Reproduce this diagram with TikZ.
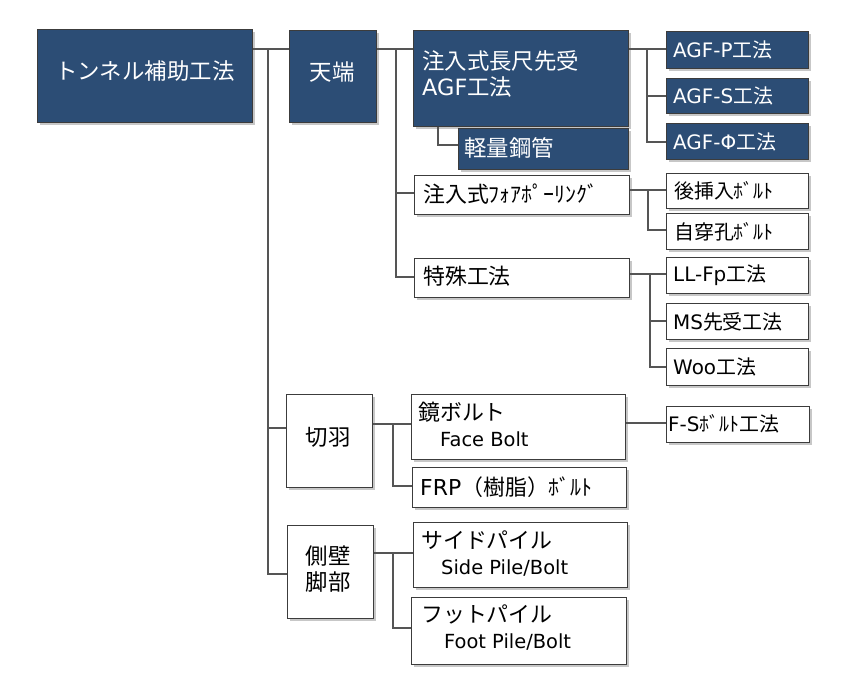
\documentclass[tikz,border=0pt]{standalone}
\usepackage{fontspec}
\setmainfont{Noto Sans CJK JP}
\newfontfamily\lat{DejaVu Sans}
\usetikzlibrary{shadows}
\definecolor{navy}{RGB}{44,77,117}
\definecolor{edgec}{RGB}{60,60,60}
\definecolor{wirec}{RGB}{85,85,85}
\begin{document}
\begin{tikzpicture}[x=1bp,y=-1bp,
  bx/.style={draw=edgec, line width=1.1bp, rectangle, inner sep=0pt, anchor=north west,
    drop shadow={shadow xshift=2.5bp, shadow yshift=-2.5bp, fill=black, opacity=0.22}},
  dk/.style={bx, fill=navy},
  wt/.style={bx, fill=white},
  tl/.style={inner sep=0pt, anchor=west},
  fbig/.style={font=\fontsize{22.5}{27}\selectfont},
  fmid/.style={font=\fontsize{22}{27}\selectfont},
  fsml/.style={font=\fontsize{20}{24}\selectfont},
  wire/.style={draw=wirec, line width=1.2bp}
]
\useasboundingbox[fill=white] (0,0) rectangle (850,700);

% ---- connector junction coordinates ----
\coordinate (j1) at (268,49);
\coordinate (j2) at (396,49);
\coordinate (j3) at (647,49);
\coordinate (j4) at (648,190);
\coordinate (j5) at (650,274);
\coordinate (j6) at (393,424);
\coordinate (j7) at (393,553);
\coordinate (k1) at (438,0);
\coordinate (yk) at (0,145);
\coordinate (ykiri) at (0,428);
\coordinate (ysoku) at (0,574);
\coordinate (yfore) at (0,193);
\coordinate (ytoku) at (0,277);
\coordinate (yagfs) at (0,96);
\coordinate (yagfphi) at (0,142);
\coordinate (yjisen) at (0,230);
\coordinate (yms) at (0,321);
\coordinate (ywoo) at (0,367);
\coordinate (yfrp) at (0,486);
\coordinate (yfs) at (0,423);
\coordinate (yfoot) at (0,628);

% ---- boxes ----
\node[dk, minimum width=215bp, minimum height=93bp] (main) at (37,29) {};
\node[dk, minimum width=87bp, minimum height=92bp] (tenpan) at (289,30) {};
\node[dk, minimum width=215bp, minimum height=96bp] (agf) at (413,30) {};
\node[dk, minimum width=170bp, minimum height=41bp] (keiryo) at (458,128) {};
\node[dk, minimum width=142bp, minimum height=37bp] (agfp) at (666,31) {};
\node[dk, minimum width=142bp, minimum height=35bp] (agfs) at (666,78) {};
\node[dk, minimum width=142bp, minimum height=36bp] (agfphi) at (666,123) {};
\node[wt, minimum width=215bp, minimum height=39bp] (fore) at (414,175) {};
\node[wt, minimum width=142bp, minimum height=35bp] (ato) at (666,173) {};
\node[wt, minimum width=142bp, minimum height=36bp] (jisen) at (666,213) {};
\node[wt, minimum width=215bp, minimum height=39bp] (tokushu) at (414,258) {};
\node[wt, minimum width=142bp, minimum height=36bp] (llfp) at (666,257) {};
\node[wt, minimum width=142bp, minimum height=36bp] (ms) at (666,303) {};
\node[wt, minimum width=142bp, minimum height=37bp] (woo) at (666,348) {};
\node[wt, minimum width=86bp, minimum height=93bp] (kiriha) at (286,394) {};
\node[wt, minimum width=214bp, minimum height=65bp] (kagami) at (411,394) {};
\node[wt, minimum width=214bp, minimum height=40bp] (frp) at (412,467) {};
\node[wt, minimum width=143bp, minimum height=36bp] (fs) at (666,406) {};
\node[wt, minimum width=86bp, minimum height=93bp] (sokuheki) at (287,525) {};
\node[wt, minimum width=214bp, minimum height=65bp] (side) at (413,522) {};
\node[wt, minimum width=215bp, minimum height=67bp] (foot) at (411,597) {};

% ---- connectors ----
\draw[wire] (main.east |- j1) -- (tenpan.west |- j1);
\draw[wire] (j1) |- (kiriha.west |- ykiri);
\draw[wire] (j1) |- (sokuheki.west |- ysoku);
\draw[wire] (tenpan.east |- j2) -- (agf.west |- j2);
\draw[wire] (j2) |- (fore.west |- yfore);
\draw[wire] (j2) |- (tokushu.west |- ytoku);
\draw[wire] (agf.south -| k1) |- (keiryo.west |- yk);
\draw[wire] (agf.east |- j3) -- (agfp.west |- j3);
\draw[wire] (j3) |- (agfs.west |- yagfs);
\draw[wire] (j3) |- (agfphi.west |- yagfphi);
\draw[wire] (fore.east |- j4) -- (ato.west |- j4);
\draw[wire] (j4) |- (jisen.west |- yjisen);
\draw[wire] (tokushu.east |- j5) -- (llfp.west |- j5);
\draw[wire] (j5) |- (ms.west |- yms);
\draw[wire] (j5) |- (woo.west |- ywoo);
\draw[wire] (kiriha.east |- j6) -- (kagami.west |- j6);
\draw[wire] (j6) |- (frp.west |- yfrp);
\draw[wire] (kagami.east |- yfs) -- (fs.west |- yfs);
\draw[wire] (sokuheki.east |- j7) -- (side.west |- j7);
\draw[wire] (j7) |- (foot.west |- yfoot);

% ---- texts ----
\node[fbig, text=white, inner sep=0pt] (tmain) at (145,71) {トンネル補助工法};
\node[fbig, text=white, inner sep=0pt] (ttenpan) at (332,72) {天端};
\node[fbig, text=white, tl] (tagf1) at (422,61) {注入式長尺先受};
\node[fbig, text=white, tl] (tagf2) at (422,87) {{\lat AGF}工法};
\node[fbig, text=white, tl] (tkeiryo) at (464,148) {軽量鋼管};
\node[fsml, text=white, tl] (tagfp) at ([xshift=7bp]agfp.west) {{\lat AGF-P}工法};
\node[fsml, text=white, tl] (tagfs) at ([xshift=7bp]agfs.west) {{\lat AGF-S}工法};
\node[fsml, text=white, tl] (tagfphi) at ([xshift=7bp]agfphi.west) {{\lat AGF-Φ}工法};
\node[fmid, tl] (tfore) at (423,194) {注入式ﾌｫｱﾎﾟｰﾘﾝｸﾞ};
\node[fsml, tl] (tato) at ([xshift=8bp]ato.west) {後挿入ﾎﾞﾙﾄ};
\node[fsml, tl] (tjisen) at ([xshift=8bp]jisen.west) {自穿孔ﾎﾞﾙﾄ};
\node[fmid, tl] (ttoku) at (423,276) {特殊工法};
\node[fsml, tl] (tllfp) at ([xshift=7bp]llfp.west) {{\lat LL-Fp}工法};
\node[fsml, tl] (tms) at ([xshift=7bp]ms.west) {{\lat MS}先受工法};
\node[fsml, tl] (twoo) at ([xshift=7bp]woo.west) {{\lat Woo}工法};
\node[fbig, inner sep=0pt] (tkiri) at (328,437) {切羽};
\node[fbig, inner sep=0pt, align=center] (tsoku) at (328,569) {側壁\\[-1bp]脚部};
\node[fmid, tl] (tkag1) at (418,412) {鏡ボルト};
\node[fsml, tl, font=\lat\fontsize{19.5}{24}\selectfont] (tkag2) at (440,439) {Face Bolt};
\node[fmid, tl] (tfrp) at (420,487) {{\lat FRP}（樹脂）ﾎﾞﾙﾄ};
\node[fsml, tl] (tfs) at (668,424) {{\lat F-S}ﾎﾞﾙﾄ工法};
\node[fmid, tl] (tside1) at (421,540) {サイドパイル};
\node[tl, font=\lat\fontsize{19.5}{24}\selectfont] (tside2) at (441,568) {Side Pile/Bolt};
\node[fmid, tl] (tfoot1) at (421,614) {フットパイル};
\node[tl, font=\lat\fontsize{19.5}{24}\selectfont] (tfoot2) at (444,642) {Foot Pile/Bolt};
\end{tikzpicture}
\end{document}
